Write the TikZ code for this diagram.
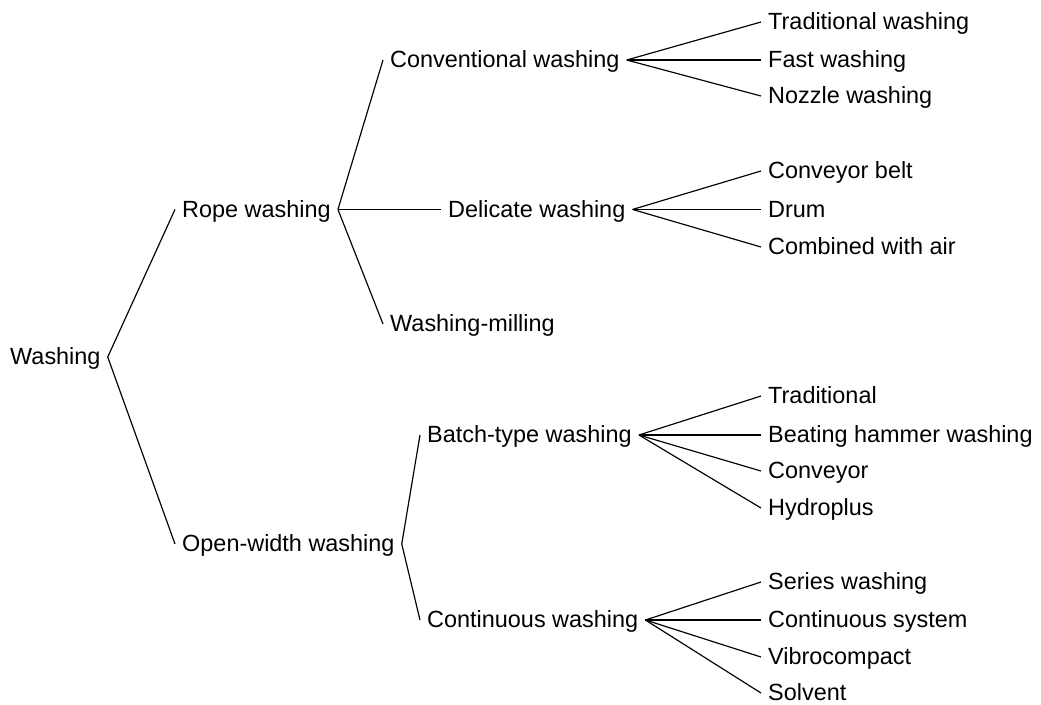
\documentclass[tikz,border=0pt]{standalone}
\usepackage{fontspec}
\setmainfont{Liberation Sans}
\usepackage{tikz}
\usetikzlibrary{calc,positioning}

\begin{document}
\begin{tikzpicture}[node distance=5mm and 5mm]

\tikzset{item/.style={font=\fontsize{12}{14}\selectfont,anchor=west,inner sep=3.5pt,text height=9pt,text depth=1pt},
branch/.style={line width=0.6pt,black}}

\useasboundingbox (0,0) rectangle (18.738,-12.672);

% Root and first level
\node [item] (wash) at (0.054,-6.426) {Washing};
\node [item] (rope) at (3.15,-3.77) {Rope washing};
\node [item] (open) at (3.15,-9.792) {Open-width washing};

% Second level
\node [item] (conv) at (6.894,-1.08) {Conventional washing};
\node [item] (deli) at (7.938,-3.77) {Delicate washing};
\node [item] (mill) at (6.894,-5.832) {Washing-milling};
\node [item] (batch) at (7.56,-7.83) {Batch-type washing};
\node [item] (cont) at (7.56,-11.16) {Continuous washing};

% Leaves
\node [item] (trad) at (13.698,-0.396) {Traditional washing};
\node [item] (fast) at (13.698,-1.08) {Fast washing};
\node [item] (nozz) at (13.698,-1.728) {Nozzle washing};
\node [item] (belt) at (13.698,-3.078) {Conveyor belt};
\node [item] (drum) at (13.698,-3.77) {Drum};
\node [item] (air) at (13.698,-4.446) {Combined with air};
\node [item] (tradb) at (13.698,-7.128) {Traditional};
\node [item] (hammer) at (13.698,-7.83) {Beating hammer washing};
\node [item] (conveyor) at (13.698,-8.478) {Conveyor};
\node [item] (hydro) at (13.698,-9.144) {Hydroplus};
\node [item] (series) at (13.698,-10.476) {Series washing};
\node [item] (system) at (13.698,-11.16) {Continuous system};
\node [item] (vibro) at (13.698,-11.826) {Vibrocompact};
\node [item] (solv) at (13.698,-12.474) {Solvent};

% Edges
\draw[branch] (wash.east) -- (rope.west); \draw[branch] (wash.east) -- (open.west);
\draw[branch] (rope.east) -- (conv.west); \draw[branch] (rope.east) -- (deli.west); \draw[branch] (rope.east) -- (mill.west);
\draw[branch] (open.east) -- (batch.west); \draw[branch] (open.east) -- (cont.west);
\foreach \leaf in {trad,fast,nozz} \draw[branch] (conv.east) -- (\leaf.west);
\foreach \leaf in {belt,drum,air} \draw[branch] (deli.east) -- (\leaf.west);
\foreach \leaf in {tradb,hammer,conveyor,hydro} \draw[branch] (batch.east) -- (\leaf.west);
\foreach \leaf in {series,system,vibro,solv} \draw[branch] (cont.east) -- (\leaf.west);

\end{tikzpicture}
\end{document}
